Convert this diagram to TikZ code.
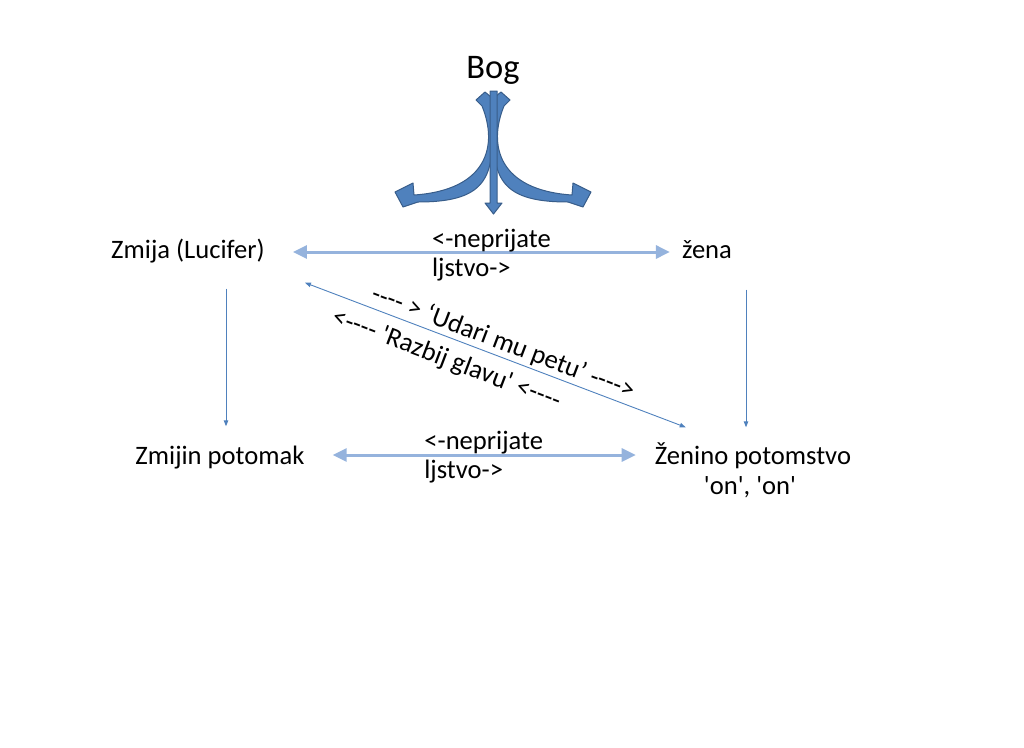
\documentclass[tikz,border=0pt]{standalone}
\usepackage{fontspec}
\newfontfamily\carlito{Carlito}
\usetikzlibrary{arrows.meta}
\definecolor{enemyblue}{RGB}{149,179,221}
\definecolor{seedblue}{RGB}{79,129,189}
\definecolor{bogfill}{RGB}{79,129,189}
\definecolor{bogline}{RGB}{56,93,138}
\newcommand{\txtsize}{\carlito\fontsize{26.6}{29}\selectfont}
\newcommand{\bogsize}{\carlito\fontsize{34.5}{40}\selectfont}
\begin{document}
\begin{tikzpicture}[x=1pt,y=-1pt]
\tikzstyle{wordtxt}=[inner sep=0pt,font=\txtsize,text=black]
\tikzstyle{nametxt}=[wordtxt,text height=19pt,text depth=6pt]
\tikzstyle{enemy}=[enemyblue,line width=3pt,{Triangle[length=14pt,width=13pt]}-{Triangle[length=14pt,width=13pt]}]
\tikzstyle{seed}=[seedblue,line width=0.9pt,-{Triangle[length=6pt,width=4.5pt]}]
\tikzstyle{bogshape}=[fill=bogfill,draw=bogline,line width=1pt,line join=round]
\useasboundingbox (0,0) rectangle (1024,747);
\node[inner sep=0pt,font=\bogsize] (bog) at (493,70) {Bog};
% Bog: tri strelice
\filldraw[bogshape] (476,100) -- (485,92) -- (491,97) -- (491,110) .. controls (496,175) and (490,202) .. (418,202) -- (403,207) -- (395,192) -- (413,183) -- (414,195) .. controls (488,190) and (498,145) .. (482,106) -- cycle;
\filldraw[bogshape] (510,100) -- (501,92) -- (495,97) -- (495,110) .. controls (490,175) and (496,202) .. (568,202) -- (583,207) -- (591,192) -- (573,183) -- (572,195) .. controls (498,190) and (488,145) .. (504,106) -- cycle;
\filldraw[bogshape] (490,91) -- (497,91) -- (497,203) -- (502,203) -- (493.5,214) -- (485,203) -- (490,203) -- cycle;
\node[nametxt] (zmija) at (188,252) {Zmija (Lucifer)};
\node[nametxt] (zena) at (707,252) {žena};
\node[nametxt] (zpotomak) at (220,458) {Zmijin potomak};
\node[nametxt] (zpotomstvo) at (753,458) {Ženino potomstvo};
\node[nametxt] (zon) at (750,488) {'on', 'on'};
\draw[enemy,shorten <=28pt,shorten >=12pt] (zmija) -- (zena) node[midway,wordtxt,align=left,xshift=18pt,yshift=-3pt] {<-neprijate\\ljstvo->};
\draw[enemy,shorten <=28pt,shorten >=19pt] ([yshift=3pt]zpotomak.east) -- ([yshift=3pt]zpotomstvo.west) node[midway,wordtxt,align=left,xshift=4pt,yshift=-2pt] {<-neprijate\\ljstvo->};
\draw[seed] ([xshift=38pt,yshift=-24pt]zmija.south) -- ([xshift=6pt,yshift=19pt]zpotomak.north);
\draw[seed] ([xshift=39pt,yshift=-25pt]zena.south) -- ([xshift=-7pt,yshift=18pt]zpotomstvo.north);
\draw[seed,{Triangle[length=6pt,width=4.5pt]}-{Triangle[length=6pt,width=4.5pt]}] ([xshift=40pt,yshift=-18pt]zmija.south east) -- ([xshift=31pt,yshift=18pt]zpotomstvo.north west)
  node[pos=0.507,wordtxt,sloped,above=2pt] {---- > ‘Udari mu petu’ ---->}
  node[pos=0.392,wordtxt,sloped,below=10pt] {<---- 'Razbij glavu' <----};
\end{tikzpicture}
\end{document}
